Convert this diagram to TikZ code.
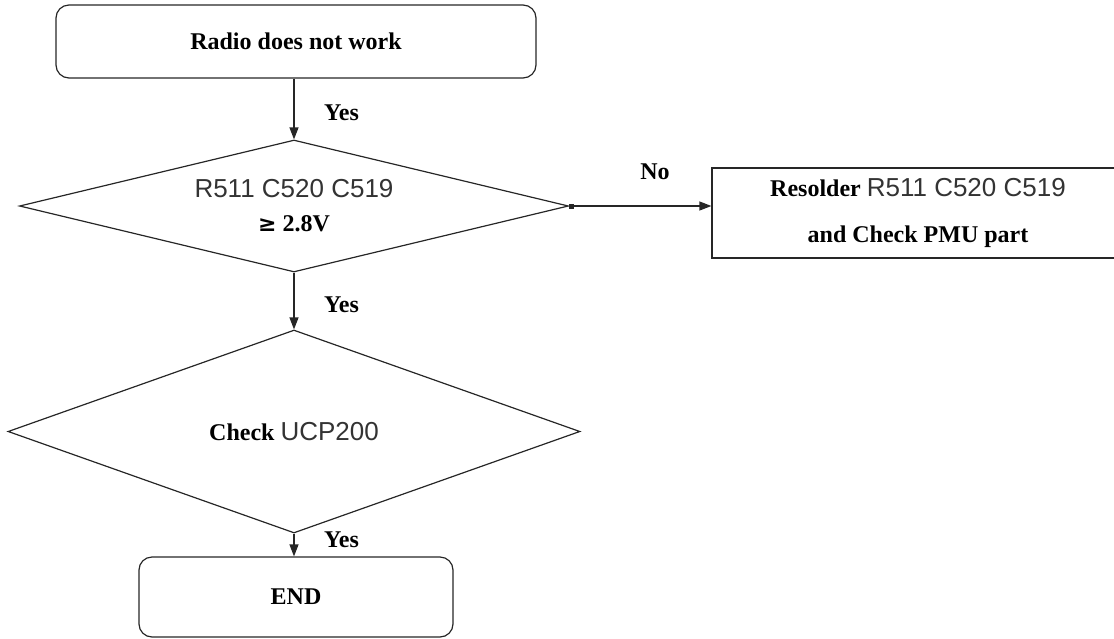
\documentclass[tikz,border=0pt]{standalone}
\usepackage{fontspec}
\setmainfont{Liberation Serif}
\newfontfamily\sansf{Liberation Sans}
\newfontfamily\symf{DejaVu Sans}
\usetikzlibrary{shapes.geometric,arrows.meta}
\newcommand\cmp[1]{{\sansf\mdseries\fontsize{26}{30}\selectfont\color{black!80}#1}}
\begin{document}
\begin{tikzpicture}[x=1pt,y=-1pt,
  ln/.style={line width=1.2pt, draw=black!85},
  term/.style={ln, rectangle, rounded corners=13pt, inner sep=0pt},
  dec/.style={ln, diamond, inner sep=0pt, align=center},
  proc/.style={ln, rectangle, inner sep=0pt, align=center},
  txt/.style={font=\fontsize{24}{34}\selectfont\bfseries},
  lbl/.style={txt, anchor=west, inner sep=0pt},
  arr/.style={ln, -{Triangle[length=12pt,width=9pt]}}]
\useasboundingbox (0,0) rectangle (1114,638);

\node[term, txt, minimum width=480pt, minimum height=73pt] (start) at (296,41.5) {Radio does not work};
\node[dec, txt, aspect=4.16, minimum width=549pt, minimum height=132pt] (d1) at (294,206)
  {\cmp{R511 C520 C519}\\{\symf\bfseries\fontsize{22}{34}\selectfont ≥} 2.8V};
\node[dec, txt, aspect=2.82, minimum width=572pt, minimum height=203pt] (d2) at (294,431.5)
  {Check \cmp{UCP200}};
\node[term, txt, minimum width=314pt, minimum height=80pt] (end) at (296,597) {END};
\node[proc, font=\fontsize{24}{46}\selectfont\bfseries, minimum width=412pt, minimum height=90pt] (fix) at (918,213)
  {Resolder \cmp{R511 C520 C519}\\and Check PMU part};

\draw[arr] (start.south -| d1.north) -- (d1.north);
\draw[arr] (d1.south) -- (d2.north);
\draw[arr] (d2.south) -- (d2.south |- end.north);
\draw[ln, {Square[length=5pt,width=5pt]}-{Triangle[length=12pt,width=9pt]}] (d1.east) -- (d1.east -| fix.west);

\node[lbl] (y1) at (324,113) {Yes};
\node[lbl] (y2) at (324,305) {Yes};
\node[lbl] (y3) at (324,540) {Yes};
\node[txt, inner sep=0pt] (no) at (655,172) {No};
\end{tikzpicture}
\end{document}
